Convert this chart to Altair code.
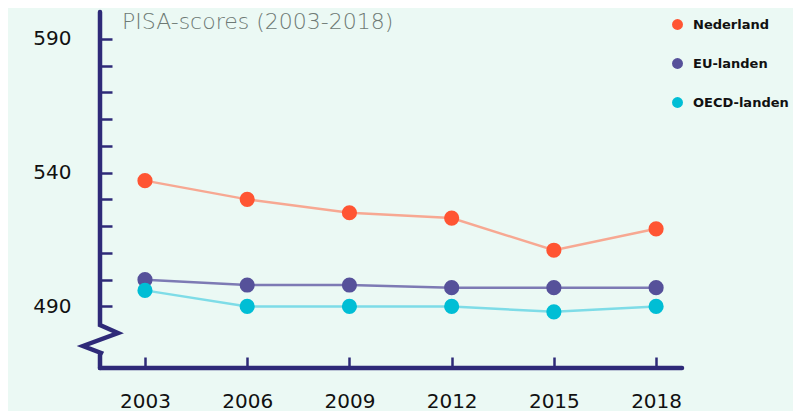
import altair as alt
import pandas as pd

# ---- data ----
years = [2003, 2006, 2009, 2012, 2015, 2018]
nederland = [537, 530, 525, 523, 511, 519]
eu_landen = [500, 498, 498, 497, 497, 497]
oecd_landen = [496, 490, 490, 490, 488, 490]
series_names = ["Nederland", "EU-landen", "OECD-landen"]
y_tick_values = list(range(490, 600, 10))
title_text = "PISA-scores (2003-2018)"

# ---- style ----
dot_colors = ["#FF5533", "#56519A", "#00BED5"]
line_colors = ["#F7A892", "#7D7AB4", "#7EDCE7"]
NAVY = "#2E2A78"
BG = "#EBF9F4"
FONT = "DejaVu Sans"

W, H = 582, 356
X_DOM = [2001.68, 2018.76]
Y_DOM = [467, 600]

rows = []
for name, vals in zip(series_names, [nederland, eu_landen, oecd_landen]):
    for yr, v in zip(years, vals):
        rows.append({"series": name, "year": yr, "score": v})
df = pd.DataFrame(rows)

x_enc = alt.X(
    "year:Q",
    scale=alt.Scale(domain=X_DOM, nice=False, zero=False),
    axis=alt.Axis(values=years, format="d", offset=-11, tickSize=11, tickWidth=2.5,
                  tickColor=NAVY, domain=False, grid=False, labelPadding=23,
                  labelFontSize=20, labelFont=FONT, labelColor="#111111",
                  labelFlush=False, title=None),
)
y_enc = alt.Y(
    "score:Q",
    scale=alt.Scale(domain=Y_DOM, nice=False, zero=False),
    axis=alt.Axis(values=y_tick_values, offset=-12, tickSize=12, tickWidth=2.5,
                  tickColor=NAVY, domain=False, grid=False, labelPadding=29,
                  labelExpr="datum.value % 50 == 40 ? datum.label : ''",
                  labelFontSize=20, labelFont=FONT, labelColor="#111111", title=None),
)

# ---- y axis line with break (pixel offsets converted to data units) ----
def px_to_year(px):
    return X_DOM[0] + px / W * (X_DOM[1] - X_DOM[0])

def py_to_score(py):
    return Y_DOM[1] - py / H * (Y_DOM[1] - Y_DOM[0])

break_dx = [0, 0, 18, -17, 1, 0, 0]
break_dy = [0, 313, 321, 334, 341, 343, 356]
axis_df = pd.DataFrame({
    "i": list(range(len(break_dx))),
    "year": [px_to_year(d) for d in break_dx],
    "score": [py_to_score(d) for d in break_dy],
})
y_axis_line = alt.Chart(axis_df).mark_line(
    color=NAVY, strokeWidth=4.5, strokeCap="round", strokeJoin="miter"
).encode(x=x_enc, y=y_enc, order="i:Q")

x_axis_line = alt.Chart(pd.DataFrame({"a": [0]})).mark_rule(
    color=NAVY, strokeWidth=4.5, strokeCap="round"
).encode(x=alt.value(0), x2=alt.value(W), y=alt.value(H))

line_layers = []
for name, lc in zip(series_names, line_colors):
    line_layers.append(
        alt.Chart(df[df["series"] == name]).mark_line(color=lc, strokeWidth=2.5)
        .encode(x=x_enc, y=y_enc)
    )

points = alt.Chart(df).mark_circle(size=230, opacity=1).encode(
    x=x_enc,
    y=y_enc,
    color=alt.Color(
        "series:N",
        scale=alt.Scale(domain=series_names, range=dot_colors),
        legend=alt.Legend(orient="none", legendX=571, legendY=6, title=None,
                          symbolType="circle", symbolSize=120, symbolStrokeWidth=0,
                          labelFont=FONT, labelFontWeight="bold", labelFontSize=13,
                          labelColor="#111111", rowPadding=25, labelOffset=9,
                          padding=0, labelLimit=200),
    ),
)

title = alt.Chart(pd.DataFrame({"t": [title_text]})).mark_text(
    align="left", baseline="middle", font=FONT, fontSize=22, fontWeight=300,
    color="#6E7A75"
).encode(x=alt.value(22), y=alt.value(10), text="t:N")

chart = alt.layer(y_axis_line, x_axis_line, *line_layers, points, title).properties(
    width=W, height=H,
    autosize=alt.AutoSizeParams(type="none"),
    padding={"left": 92, "top": 4, "right": 111, "bottom": 43},
).configure(background=BG).configure_view(stroke=None)

chart.save("out.html", embed_options={"renderer": "svg", "actions": False})
